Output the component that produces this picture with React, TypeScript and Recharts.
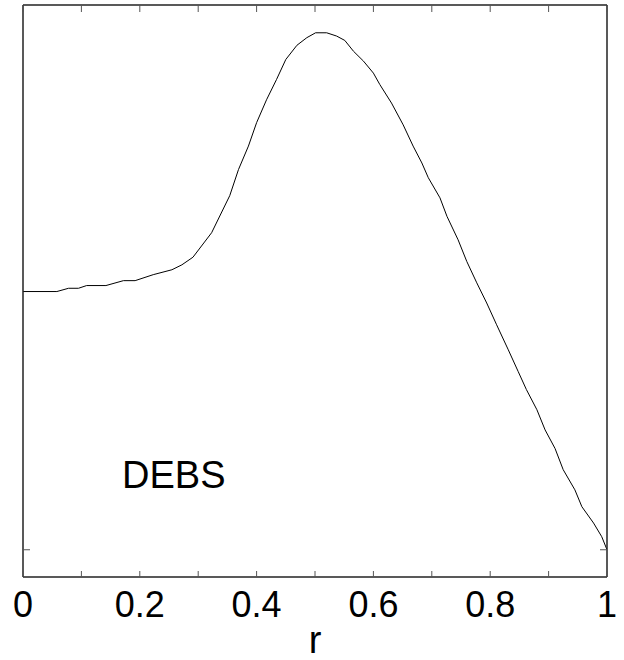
import { Line, LineChart, XAxis, YAxis } from "recharts";

// Profile, r from 0 to 1.
const R = [
  0, 0.058, 0.078, 0.095, 0.109, 0.142, 0.172, 0.192, 0.223, 0.255, 0.272, 0.291,
  0.323, 0.354, 0.369, 0.386, 0.4, 0.417, 0.434, 0.45, 0.469, 0.486, 0.501, 0.52,
  0.537, 0.551, 0.566, 0.583, 0.6, 0.611, 0.631, 0.651, 0.668, 0.683, 0.694, 0.714,
  0.726, 0.745, 0.76, 0.777, 0.794, 0.811, 0.831, 0.848, 0.862, 0.88, 0.894, 0.911,
  0.925, 0.945, 0.957, 0.977, 0.991, 1,
];
const DEBS = [
  0.474, 0.474, 0.48, 0.48, 0.485, 0.485, 0.494, 0.494, 0.505, 0.514, 0.523, 0.537,
  0.582, 0.65, 0.698, 0.741, 0.784, 0.826, 0.863, 0.9, 0.926, 0.94, 0.949, 0.949,
  0.943, 0.935, 0.915, 0.897, 0.875, 0.854, 0.82, 0.78, 0.741, 0.71, 0.683, 0.646,
  0.612, 0.569, 0.529, 0.49, 0.453, 0.413, 0.367, 0.327, 0.294, 0.257, 0.22, 0.186,
  0.147, 0.11, 0.079, 0.049, 0.024, 0,
];
const X_TICKS = [0, 0.1, 0.2, 0.3, 0.4, 0.5, 0.6, 0.7, 0.8, 0.9, 1];
const Y_TICKS = [0];

const data = R.map((r, i) => ({ r, y: DEBS[i] }));

const FONT = "'Liberation Sans', Arial, sans-serif";
const BOX = "#222";
const TICK = "#555";
const LABEL_SIZE = 36;

// ticks point inward, labels only on every other tick
function BottomTick(props: any) {
  const { x, y, payload } = props;
  const v = payload.value as number;
  const major = Math.round(v * 10) % 2 === 0;
  return (
    <g>
      <line x1={x} x2={x} y1={y} y2={y - 6} stroke={TICK} />
      {major && (
        <text
          x={x}
          y={y + 40}
          textAnchor="middle"
          fill="#000"
          fontSize={LABEL_SIZE}
          fontFamily={FONT}
          style={{ fontSize: LABEL_SIZE, fontFamily: FONT }}
        >
          {String(Number(v.toFixed(1)))}
        </text>
      )}
    </g>
  );
}

function TopTick(props: any) {
  const { x, y } = props;
  return <line x1={x} x2={x} y1={y} y2={y + 7} stroke={TICK} />;
}

function LeftTick(props: any) {
  const { x, y } = props;
  return <line x1={x} x2={x + 7} y1={y} y2={y} stroke={TICK} />;
}

function RightTick(props: any) {
  const { x, y } = props;
  return <line x1={x} x2={x - 7} y1={y} y2={y} stroke={TICK} />;
}

export default function App() {
  return (
    <div style={{ position: "absolute", left: 0, top: 0, width: 624, height: 660, background: "#fff" }}>
      <LineChart width={624} height={660} data={data} margin={{ top: 4, right: 16, bottom: 82, left: 22 }}>
        <XAxis
          dataKey="r"
          type="number"
          domain={[0, 1]}
          ticks={X_TICKS}
          interval={0}
          height={1}
          tickSize={0}
          tickMargin={0}
          tickLine={false}
          axisLine={{ stroke: BOX, strokeWidth: 1.5 }}
          tick={BottomTick}
          allowDataOverflow
        />
        <XAxis
          xAxisId="top"
          orientation="top"
          dataKey="r"
          type="number"
          domain={[0, 1]}
          ticks={X_TICKS}
          interval={0}
          height={1}
          tickSize={0}
          tickMargin={0}
          tickLine={false}
          axisLine={{ stroke: BOX, strokeWidth: 1.5 }}
          tick={TopTick}
          allowDataOverflow
        />
        <YAxis
          type="number"
          domain={[-0.05, 1]}
          ticks={Y_TICKS}
          width={1}
          tickSize={0}
          tickMargin={0}
          tickLine={false}
          axisLine={{ stroke: BOX, strokeWidth: 1.5 }}
          tick={LeftTick}
          allowDataOverflow
        />
        <YAxis
          yAxisId="right"
          orientation="right"
          type="number"
          domain={[-0.05, 1]}
          ticks={Y_TICKS}
          width={1}
          tickSize={0}
          tickMargin={0}
          tickLine={false}
          axisLine={{ stroke: BOX, strokeWidth: 1.5 }}
          tick={RightTick}
          allowDataOverflow
        />
        <Line
          type="linear"
          dataKey="y"
          stroke="#000"
          strokeWidth={1}
          dot={false}
          isAnimationActive={false}
        />
      </LineChart>
      <div
        style={{
          position: "absolute",
          left: 122,
          top: 456,
          fontFamily: FONT,
          fontSize: 38,
          lineHeight: 1,
          color: "#000",
        }}
      >
        DEBS
      </div>
      <div
        style={{
          position: "absolute",
          left: 295,
          width: 40,
          top: 621,
          textAlign: "center",
          fontFamily: FONT,
          fontSize: 38,
          lineHeight: 1,
          color: "#000",
        }}
      >
        r
      </div>
    </div>
  );
}
